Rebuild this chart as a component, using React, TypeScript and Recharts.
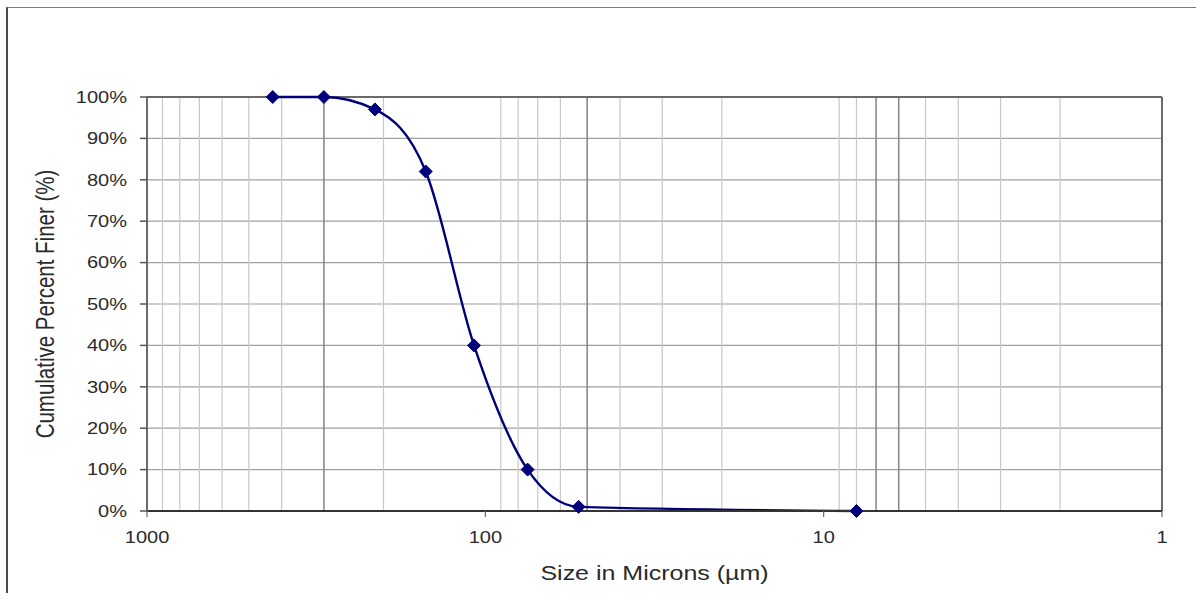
import React from "react";
import { LineChart, Line, XAxis, YAxis, CartesianGrid, ReferenceLine, Label } from "recharts";

// Sieve sizes (µm) and cumulative fraction finer
const sizes = [425, 300, 212, 150, 108, 75, 53, 8];
const finer = [1.0, 1.0, 0.97, 0.82, 0.4, 0.1, 0.01, 0.0];

const xTicks = [1000, 100, 10, 1];
const yTicks = [0, 0.1, 0.2, 0.3, 0.4, 0.5, 0.6, 0.7, 0.8, 0.9, 1.0];
const minorGrid = [900, 800, 700, 600, 500, 400, 300, 200, 90, 80, 70, 60, 50, 40, 30, 20, 9, 8, 7, 6, 5, 4, 3, 2];
const darkGrid = [300, 50, 7, 6];

const data = sizes.map((s, i) => ({ size: s, pct: finer[i] }));

const FONT = "'Liberation Sans', Arial, Helvetica, sans-serif";
const SX = 1.25;

const XTick = (props: any) => {
  const { x, y, payload } = props;
  return (
    <g transform={`translate(${x},${y}) scale(${SX},1)`}>
      <text x={0} y={0} dy={26} textAnchor="middle" fontSize={16} fill="#2a2a2a" fontFamily={FONT}>
        {String(payload.value)}
      </text>
    </g>
  );
};

const YTick = (props: any) => {
  const { x, y, payload } = props;
  return (
    <g transform={`translate(${x},${y}) scale(${SX},1)`}>
      <text x={0} y={0} dy={5.8} textAnchor="end" fontSize={16} fill="#2a2a2a" fontFamily={FONT}>
        {`${Math.round(payload.value * 100)}%`}
      </text>
    </g>
  );
};

const Diamond = (props: any) => {
  const { cx, cy } = props;
  if (cx == null || cy == null) return null;
  const r = 6.5;
  return (
    <path
      d={`M${cx},${cy - r} L${cx + r},${cy} L${cx},${cy + r} L${cx - r},${cy} Z`}
      fill="#00007a"
      stroke="#00007a"
      strokeWidth={1}
    />
  );
};

const XLabel = (props: any) => {
  const vb = props.viewBox || {};
  const cx = vb.x + vb.width / 2;
  return (
    <g transform={`translate(${cx},580) scale(${SX},1)`}>
      <text x={0} y={0} textAnchor="middle" fontSize={20} fill="#2a2a2a" fontFamily={FONT}>
        Size in Microns (µm)
      </text>
    </g>
  );
};

const YLabel = (props: any) => {
  const vb = props.viewBox || {};
  const cy = vb.y + vb.height / 2;
  return (
    <g transform={`translate(54,${cy}) scale(${SX},1) rotate(-90)`}>
      <text x={0} y={0} textAnchor="middle" fontSize={20.5} fill="#2a2a2a" fontFamily={FONT}>
        Cumulative Percent Finer (%)
      </text>
    </g>
  );
};

export default function App() {
  return (
    <div style={{ position: "relative", width: 1196, height: 600, background: "#fff" }}>
      <style>{`body{margin:0;background:#fff}`}</style>
      <div
        style={{
          position: "absolute",
          left: 6,
          top: 7,
          width: 1190,
          height: 586,
          borderLeft: "2px solid #4a4a4a",
          borderTop: "1.5px solid #7a7a7a",
          boxSizing: "border-box",
          pointerEvents: "none",
        }}
      />
      <LineChart
        width={1196}
        height={600}
        data={data}
        margin={{ top: 97, right: 34, bottom: 59, left: 87 }}
      >
        <CartesianGrid horizontal={true} vertical={false} stroke="#a0a0a0" strokeWidth={1.2} />
        {minorGrid.map((g) => (
          <ReferenceLine
            key={g}
            x={g}
            stroke={darkGrid.includes(g) ? "#8a8a8a" : "#c8c8c8"}
            strokeWidth={darkGrid.includes(g) ? 1.6 : 1.2}
          />
        ))}
        <ReferenceLine y={1} stroke="#6a6a6a" strokeWidth={2} />
        <ReferenceLine x={1} stroke="#6a6a6a" strokeWidth={2} />
        <XAxis
          dataKey="size"
          type="number"
          scale="log"
          domain={[1, 1000]}
          reversed
          ticks={xTicks}
          interval={0}
          height={30}
          tickSize={6}
          tickMargin={0}
          tick={<XTick />}
          axisLine={{ stroke: "#333", strokeWidth: 2 }}
          tickLine={{ stroke: "#666", strokeWidth: 1.2 }}
          allowDataOverflow
        >
          <Label content={<XLabel />} />
        </XAxis>
        <YAxis
          type="number"
          domain={[0, 1]}
          ticks={yTicks}
          interval={0}
          width={60}
          tickSize={7}
          tickMargin={13}
          tick={<YTick />}
          axisLine={{ stroke: "#6a6a6a", strokeWidth: 2 }}
          tickLine={{ stroke: "#555", strokeWidth: 1.5 }}
        >
          <Label content={<YLabel />} />
        </YAxis>
        <Line
          type="monotone"
          dataKey="pct"
          stroke="#00007a"
          strokeWidth={2.4}
          dot={<Diamond />}
          activeDot={false}
          isAnimationActive={false}
        />
      </LineChart>
    </div>
  );
}
